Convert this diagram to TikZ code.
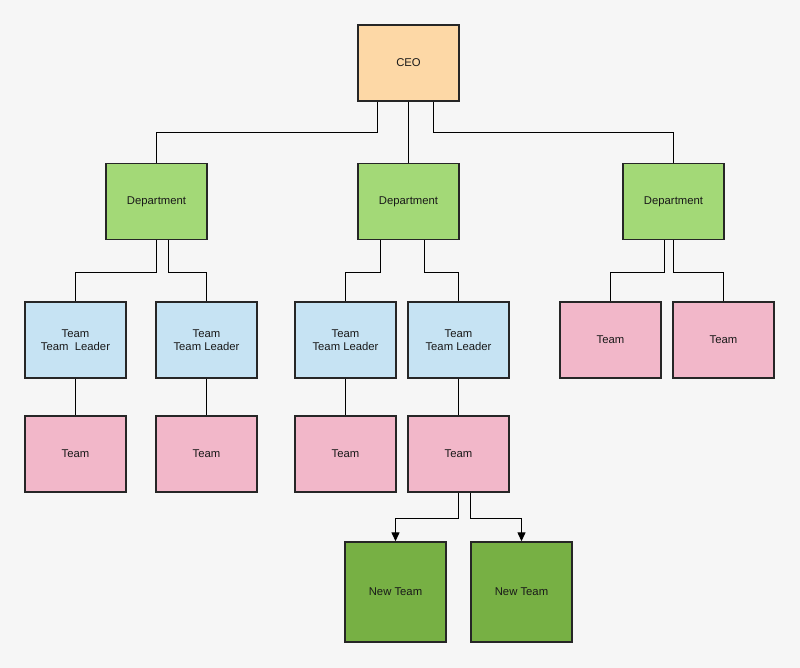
\documentclass[tikz,border=0pt]{standalone}
\usepackage{fontspec}
\setmainfont{Liberation Sans}
\usetikzlibrary{arrows.meta,calc}
\definecolor{bgc}{HTML}{F6F6F6}
\definecolor{ceoc}{HTML}{FDD8A6}
\definecolor{depc}{HTML}{A3D977}
\definecolor{tlc}{HTML}{C6E3F3}
\definecolor{teamc}{HTML}{F2B7C9}
\definecolor{newc}{HTML}{77B044}
\tikzset{
  box/.style={draw=black!85, line width=1.4pt, minimum width=101pt, minimum height=76pt, inner sep=0pt, align=center, font=\fontsize{11.3}{13.5}\selectfont, text=black!90},
  ceobox/.style={box, fill=ceoc},
  depbox/.style={box, fill=depc},
  tlbox/.style={box, fill=tlc},
  teambox/.style={box, fill=teamc},
  newbox/.style={box, fill=newc, minimum height=100pt},
  conn/.style={draw=black, line width=1.3pt},
  arr/.style={conn, -{Triangle[width=8pt,length=9pt]}}
}
\begin{document}
\begin{tikzpicture}[x=1pt,y=-1pt]
\fill[bgc] (0,0) rectangle (800,668);
\useasboundingbox (0,0) rectangle (800,668);
% nodes
\node[ceobox] (ceo) at (408.5,63) {CEO};
\node[depbox] (d1) at (156.5,201.5) {Department};
\node[depbox] (d2) at (408.5,201.5) {Department};
\node[depbox] (d3) at (673.5,201.5) {Department};
\node[tlbox] (tl1) at (75.5,340) {Team\\Team\ \ Leader};
\node[tlbox] (tl2) at (206.5,340) {Team\\Team Leader};
\node[tlbox] (tl3) at (345.5,340) {Team\\Team Leader};
\node[tlbox] (tl4) at (458.5,340) {Team\\Team Leader};
\node[teambox] (r1) at (610.5,340) {Team};
\node[teambox] (r2) at (723.5,340) {Team};
\node[teambox] (t1) at (75.5,454) {Team};
\node[teambox] (t2) at (206.5,454) {Team};
\node[teambox] (t3) at (345.5,454) {Team};
\node[teambox] (t4) at (458.5,454) {Team};
\node[newbox] (n1) at (395.5,592) {New Team};
\node[newbox] (n2) at (521.5,592) {New Team};
% connectors
\draw[conn] ([xshift=-31pt]ceo.south) -- ++(0,30.5) -| (d1.north);
\draw[conn] (ceo.south) -- (d2.north);
\draw[conn] ([xshift=25pt]ceo.south) -- ++(0,30.5) -| (d3.north);
\draw[conn] (d1.south) -- ++(0,32) -| (tl1.north);
\draw[conn] ([xshift=12pt]d1.south) -- ++(0,32) -| (tl2.north);
\draw[conn] ([xshift=-28pt]d2.south) -- ++(0,32) -| (tl3.north);
\draw[conn] ([xshift=16pt]d2.south) -- ++(0,32) -| (tl4.north);
\draw[conn] ([xshift=-9pt]d3.south) -- ++(0,32) -| (r1.north);
\draw[conn] (d3.south) -- ++(0,32) -| (r2.north);
\draw[conn] (tl1.south) -- (t1.north);
\draw[conn] (tl2.south) -- (t2.north);
\draw[conn] (tl3.south) -- (t3.north);
\draw[conn] (tl4.south) -- (t4.north);
\draw[arr] (t4.south) -- ++(0,25.5) -| (n1.north);
\draw[arr] ([xshift=12pt]t4.south) -- ++(0,25.5) -| (n2.north);
\end{tikzpicture}
\end{document}
